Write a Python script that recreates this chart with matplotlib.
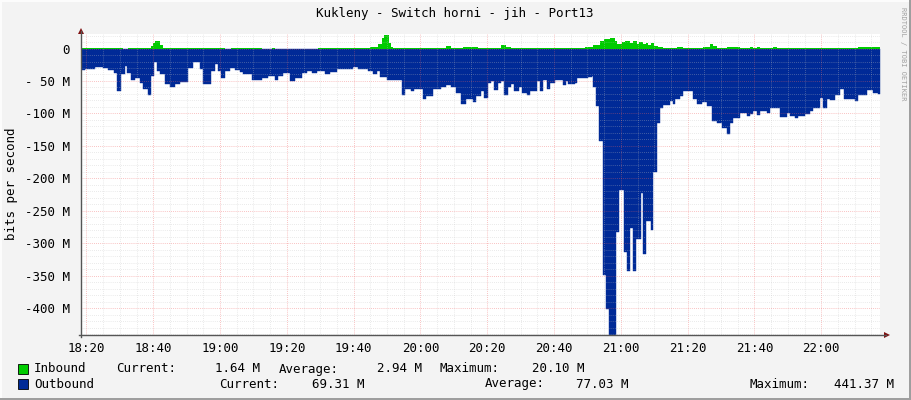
import numpy as np
import matplotlib
matplotlib.use("Agg")
import matplotlib.pyplot as plt
from matplotlib.lines import Line2D
from matplotlib.patches import Polygon, Rectangle
import matplotlib.transforms as mtransforms

# ---------------- data (minutes after 18:20, values in Mbit/s) ----------------
out_t = [-1.6, -0.4, 2.6, 5.0, 6.5, 8.3, 9.2, 10.4, 11.6, 12.2,
         13.4, 14.6, 16.1, 17.0, 18.4, 19.3, 20.2, 21.1, 22.0, 23.5,
         25.0, 26.5, 28.0, 30.4, 31.9, 34.0, 34.9, 37.3, 38.5, 39.4,
         40.3, 41.5, 43.0, 44.5, 46.0, 46.9, 49.6, 51.4, 52.6, 54.4,
         56.5, 57.4, 58.9, 61.0, 62.5, 64.6, 66.1, 67.5, 69.0, 71.4,
         72.9, 75.0, 78.0, 79.8, 81.3, 84.3, 85.8, 87.0, 87.9, 90.0,
         91.8, 94.5, 95.4, 97.2, 98.1, 100.8, 101.7, 103.8, 106.2, 107.7,
         109.2, 110.7, 112.2, 113.7, 115.8, 116.7, 118.2, 119.1, 120.2, 121.1,
         122.0, 123.2, 124.1, 125.0, 126.2, 127.1, 128.0, 129.5, 130.4, 131.9,
         132.8, 134.9, 135.8, 136.7, 137.9, 138.8, 140.3, 141.2, 142.7, 143.6,
         144.2, 145.4, 146.3, 146.9, 150.2, 151.4, 151.7, 152.6, 153.5, 154.7,
         155.6, 156.5, 158.6, 159.5, 161.0, 161.9, 162.8, 163.7, 164.6, 166.1,
         166.7, 167.6, 169.1, 169.7, 170.8, 171.7, 172.6, 174.7, 175.6, 176.2,
         177.7, 178.6, 181.6, 182.8, 184.3, 185.8, 187.3, 188.8, 190.3, 191.8,
         192.7, 193.6, 195.7, 197.8, 198.7, 199.6, 200.8, 201.7, 203.8, 204.7,
         207.7, 209.8, 210.7, 212.2, 213.1, 215.2, 216.6, 217.5, 219.6, 220.5,
         221.7, 222.6, 224.1, 225.6, 226.8, 227.7, 229.2, 230.1, 231.0, 233.7,
         235.5, 237.0]
out_v = [33, 32, 29, 30, 33, 37, 66, 40, 27, 37,
         48, 45, 53, 63, 72, 43, 20, 35, 40, 54,
         60, 55, 51, 30, 21, 32, 55, 35, 24, 35,
         45, 35, 30, 33, 36, 40, 48, 49, 45, 43,
         48, 43, 37, 50, 45, 37, 34, 37, 35, 39,
         36, 32, 31, 29, 31, 35, 40, 34, 44, 48,
         49, 71, 63, 65, 63, 78, 73, 63, 59, 56,
         59, 68, 86, 78, 82, 73, 65, 76, 53, 50,
         64, 53, 50, 72, 60, 55, 65, 60, 68, 71,
         65, 50, 65, 48, 63, 53, 49, 48, 56, 50,
         55, 54, 53, 46, 44, 43, 59, 88, 142, 349,
         402, 441.37, 283, 218, 313, 343, 276, 343, 293, 222,
         317, 265, 279, 191, 115, 91, 87, 81, 85, 77,
         73, 66, 77, 85, 83, 88, 112, 114, 122, 131,
         114, 107, 100, 104, 101, 97, 102, 96, 100, 91,
         105, 100, 104, 107, 104, 101, 97, 92, 76, 91,
         78, 80, 71, 62, 78, 77, 78, 81, 72, 64,
         68, 69.31]

in_t = [-1.6, 11.0, 12.5, 19.3, 19.9, 20.5, 22.0, 22.9, 41.5, 43.3,
        52.6, 55.6, 56.5, 69.3, 71.4, 72.3, 73.5, 83.4, 84.9, 87.3,
        88.5, 89.1, 90.6, 91.2, 91.8, 94.8, 95.7, 107.7, 109.2, 112.8,
        117.3, 124.1, 125.6, 127.1, 149.3, 151.7, 153.8, 155.0, 156.8, 158.3,
        158.9, 160.4, 161.3, 162.8, 163.7, 164.9, 165.5, 166.7, 167.6, 168.2,
        169.1, 169.9, 171.1, 172.6, 176.8, 178.6, 184.6, 186.7, 187.6, 188.8,
        191.8, 195.7, 198.7, 199.6, 200.8, 201.7, 205.6, 206.8, 219.6, 221.1,
        222.6, 224.1, 228.0, 231.0]
in_v = [1.5, 0, 1.5, 4, 8, 11, 5, 1.5, 0, 1.5,
        0, 1.5, 0, 1.5, 0.3, 1.5, 0.3, 1.5, 2.5, 7,
        16, 20.1, 8, 3, 0.3, 1.5, 0.3, 3.4, 1.5, 2.3,
        1.5, 5, 3, 1.5, 2.5, 5, 12, 15, 16, 11,
        7, 10, 12, 8, 11, 7, 10, 7, 9, 6,
        8, 4, 3, 1.5, 2.5, 1.5, 2, 7, 4, 1.5,
        2.5, 1.5, 2.5, 1.5, 2.5, 1.5, 2.5, 1.5, 0.3, 1.2,
        0.3, 1.2, 0.3, 1.64]

x_ticks = [0, 20, 40, 60, 80, 100, 120, 140, 160, 180, 200, 220]
x_labels = ["18:20", "18:40", "19:00", "19:20", "19:40", "20:00",
            "20:20", "20:40", "21:00", "21:20", "21:40", "22:00"]
y_ticks = [0, -50, -100, -150, -200, -250, -300, -350, -400]
y_labels = ["0", "- 50 M", "-100 M", "-150 M", "-200 M", "-250 M",
            "-300 M", "-350 M", "-400 M"]

title = "Kukleny - Switch horni - jih - Port13"
legend_rows = [
    ("Inbound", "#00CC00", [(116, "Current:"), (260, "1.64 M", "r"), (279, "Average:"),
                            (422, "2.94 M", "r"), (440, "Maximum:"), (584, "20.10 M", "r")]),
    ("Outbound", "#002A97", [(219, "Current:"), (364, "69.31 M", "r"), (485, "Average:"),
                             (628, "77.03 M", "r"), (750, "Maximum:"), (894, "441.37 M", "r")]),
]

X_MIN, X_MAX = -1.62, 237.6
Y_MIN, Y_MAX = -441.37, 23.0

# ---------------- figure ----------------
W, H = 911, 400
plt.rcParams['font.family'] = ['DejaVu Sans Mono']
fig = plt.figure(figsize=(W / 100, H / 100), dpi=100)
fig.patch.set_facecolor("#F3F3F3")
pix = mtransforms.Affine2D().scale(1 / W, -1 / H).translate(0, 1) + fig.transFigure

L, R, T, B = 81, 880, 33.6, 335
ax = fig.add_axes([L / W, 1 - B / H, (R - L) / W, (B - T) / H])
ax.set_facecolor("white")
ax.set_xlim(X_MIN, X_MAX)
ax.set_ylim(Y_MIN, Y_MAX)

ot = np.append(out_t, X_MAX)
ov = np.append(out_v, out_v[-1])
it = np.append(in_t, X_MAX)
iv = np.append(in_v, in_v[-1])
ax.fill_between(ot, -ov, 0, step="post", color="#002A97", edgecolor="#002A97",
                linewidth=0.3, zorder=2)
ax.fill_between(it, 0, iv, step="post", color="#00CC00", linewidth=0, zorder=2)

# grid
ax.set_xticks(x_ticks)
ax.set_xticks(np.arange(0, X_MAX, 5), minor=True)
ax.set_yticks(y_ticks)
ax.set_yticks(np.arange(-440, 21, 10), minor=True)
ax.grid(which="minor", color="#C0C0C0", alpha=0.45, linestyle=(0, (1, 1.5)), linewidth=0.6, zorder=3)
ax.grid(which="major", color="#F06060", alpha=0.5, linestyle=(0, (1, 1.5)), linewidth=0.6, zorder=3)
ax.set_axisbelow(False)

ax.set_xticklabels(x_labels, fontsize=9, color="#000000")
ax.set_yticklabels(y_labels, fontsize=9, color="#000000")
ax.tick_params(axis="both", which="both", length=0)
ax.tick_params(axis="x", pad=5)
ax.tick_params(axis="y", pad=8)
for s in ax.spines.values():
    s.set_visible(False)

# axes lines and arrows
fig.add_artist(Line2D([81, 81], [337, 31], transform=pix, color="#555555", lw=1))
fig.add_artist(Line2D([79, 886], [335, 335], transform=pix, color="#555555", lw=1))
fig.add_artist(Polygon([[78, 34], [84, 34], [81, 28]], closed=True, transform=pix,
                       facecolor="#7F1010", edgecolor="none"))
fig.add_artist(Polygon([[884, 332], [884, 338], [890, 335]], closed=True, transform=pix,
                       facecolor="#7F1010", edgecolor="none"))

# title, y label, watermark
fig.text(455 / W, 1 - 14 / H, title, ha="center", va="center", fontsize=9)
fig.text(12 / W, 1 - 184 / H, "bits per second", rotation=90, ha="center", va="center", fontsize=9)
fig.text(903 / W, 1 - 7 / H, "RRDTOOL / TOBI OETIKER", rotation=270, ha="center", va="top",
         fontsize=5, color="#A0A0A0")

# legend
row_y = [369, 384]
for (name, col, items), yy in zip(legend_rows, row_y):
    fig.add_artist(Rectangle((18, yy - 5), 10, 10, transform=pix, facecolor=col,
                             edgecolor="#000000", lw=0.6))
    fig.text(34 / W, 1 - yy / H, name, ha="left", va="center", fontsize=9)
    for it_ in items:
        ha = "right" if len(it_) == 3 else "left"
        fig.text(it_[0] / W, 1 - yy / H, it_[1], ha=ha, va="center", fontsize=9)

# frame shading
fig.add_artist(Rectangle((0, 0), W, 1.5, transform=pix, facecolor="#FCFCFC", edgecolor="none"))
fig.add_artist(Rectangle((0, 0), 1.5, H, transform=pix, facecolor="#FCFCFC", edgecolor="none"))
fig.add_artist(Rectangle((W - 2.5, 0), 2.5, H, transform=pix, facecolor="#9E9E9E", edgecolor="none"))
fig.add_artist(Rectangle((0, H - 2.5), W, 2.5, transform=pix, facecolor="#9E9E9E", edgecolor="none"))

fig.savefig("out.png", dpi=100, facecolor=fig.get_facecolor())
